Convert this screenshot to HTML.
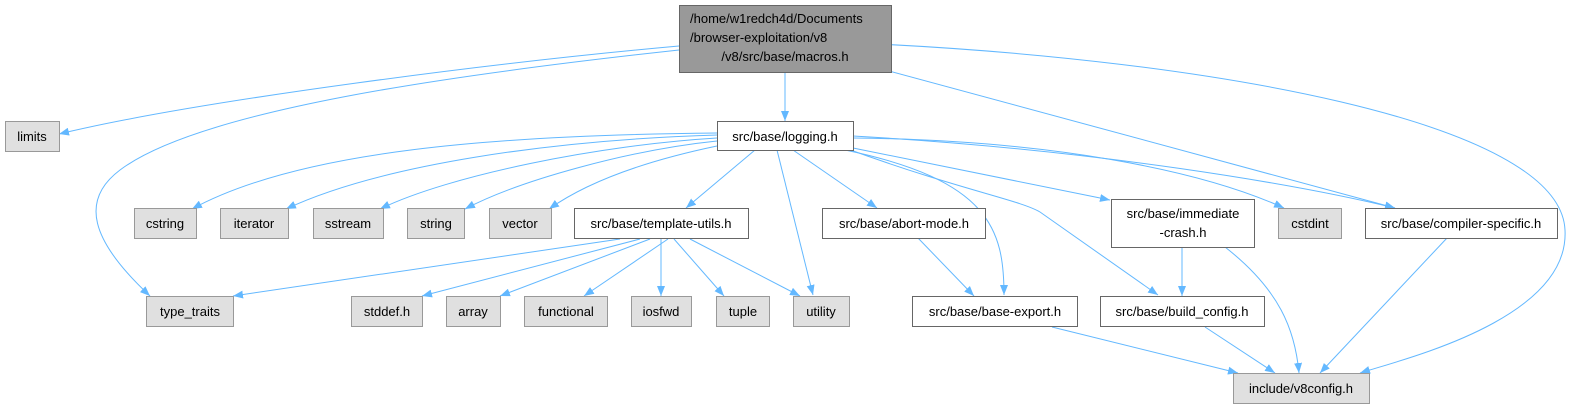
<!DOCTYPE html>
<html><head><meta charset="utf-8"><style>
html,body{margin:0;padding:0;background:#fff;}
svg{display:block;}
text{font-family:"Liberation Sans","DejaVu Sans",sans-serif;font-size:13px;fill:#000;}
</style></head><body>
<svg width="1590" height="408" viewBox="0 0 1590 408" xmlns="http://www.w3.org/2000/svg">
<defs>
<marker id="a" viewBox="0 0 10 8" refX="10" refY="4" markerWidth="10" markerHeight="8" markerUnits="userSpaceOnUse" orient="auto">
<path d="M0,0 L10,4 L0,8 z" fill="#63b8ff"/>
</marker>
</defs>
<g fill="none" stroke="#63b8ff" stroke-width="1" marker-end="url(#a)">
<path d="M679,46 C500,62 200,100 59,134"/>
<path d="M679,50 C450,75 200,110 120,170 C80,200 90,240 150,296"/>
<path d="M785,73 L785,121"/>
<path d="M878,68 L1395,208"/>
<path d="M878,44 C1200,60 1560,120 1565,230 C1570,320 1400,360 1360,373"/>
<path d="M717,133 C500,135 300,150 192,209"/>
<path d="M717,135 C550,140 380,165 286,209"/>
<path d="M717,138 C600,145 450,175 380,209"/>
<path d="M717,141 C630,150 520,180 465,209"/>
<path d="M717,146 C650,160 590,180 549,209"/>
<path d="M755,150 L686,208"/>
<path d="M777,150 L813,295"/>
<path d="M793,150 L877,208"/>
<path d="M845,150 C990,180 1004,230 1004,295"/>
<path d="M845,148 C960,190 1020,200 1040,212 L1158,295"/>
<path d="M853,148 L1110,200"/>
<path d="M853,138 C1050,140 1200,170 1284,208"/>
<path d="M853,136 C1100,150 1300,185 1395,208"/>
<path d="M620,239 L233,296"/>
<path d="M640,239 L422,296"/>
<path d="M650,239 L500,296"/>
<path d="M668,239 L584,296"/>
<path d="M661,239 L661,296"/>
<path d="M674,239 L724,296"/>
<path d="M690,239 L800,296"/>
<path d="M918,238 L974,296"/>
<path d="M1182,247 L1182,296"/>
<path d="M1225,247 C1280,290 1295,330 1299,373"/>
<path d="M1447,238 L1320,373"/>
<path d="M1052,327 L1238,373"/>
<path d="M1205,327 L1275,373"/>
</g>
<g stroke-width="1">
<rect x="679.5" y="5.5" width="212" height="67" fill="#999" stroke="#666"/>
<text x="690" y="23">/home/w1redch4d/Documents</text>
<text x="690" y="42">/browser-exploitation/v8</text>
<text x="785" y="61" text-anchor="middle">/v8/src/base/macros.h</text>

<rect x="5.5" y="121.5" width="54" height="30" fill="#e0e0e0" stroke="#999"/><text x="32" y="141" text-anchor="middle">limits</text>
<rect x="717.5" y="121.5" width="136" height="29" fill="#fff" stroke="#666"/><text x="785" y="141" text-anchor="middle">src/base/logging.h</text>

<rect x="134.5" y="208.5" width="62" height="30" fill="#e0e0e0" stroke="#999"/><text x="165" y="228" text-anchor="middle">cstring</text>
<rect x="220.5" y="208.5" width="68" height="30" fill="#e0e0e0" stroke="#999"/><text x="254" y="228" text-anchor="middle">iterator</text>
<rect x="313.5" y="208.5" width="70" height="30" fill="#e0e0e0" stroke="#999"/><text x="348" y="228" text-anchor="middle">sstream</text>
<rect x="407.5" y="208.5" width="57" height="30" fill="#e0e0e0" stroke="#999"/><text x="436" y="228" text-anchor="middle">string</text>
<rect x="489.5" y="208.5" width="62" height="30" fill="#e0e0e0" stroke="#999"/><text x="520" y="228" text-anchor="middle">vector</text>
<rect x="574.5" y="208.5" width="174" height="30" fill="#fff" stroke="#666"/><text x="661" y="228" text-anchor="middle">src/base/template-utils.h</text>
<rect x="822.5" y="208.5" width="163" height="30" fill="#fff" stroke="#666"/><text x="904" y="228" text-anchor="middle">src/base/abort-mode.h</text>
<rect x="1111.5" y="199.5" width="143" height="48" fill="#fff" stroke="#666"/><text x="1183" y="218" text-anchor="middle">src/base/immediate</text><text x="1183" y="237" text-anchor="middle">-crash.h</text>
<rect x="1278.5" y="208.5" width="63" height="30" fill="#e0e0e0" stroke="#999"/><text x="1310" y="228" text-anchor="middle">cstdint</text>
<rect x="1365.5" y="208.5" width="192" height="30" fill="#fff" stroke="#666"/><text x="1461" y="228" text-anchor="middle">src/base/compiler-specific.h</text>

<rect x="146.5" y="296.5" width="87" height="30" fill="#e0e0e0" stroke="#999"/><text x="190" y="316" text-anchor="middle">type_traits</text>
<rect x="351.5" y="296.5" width="71" height="30" fill="#e0e0e0" stroke="#999"/><text x="387" y="316" text-anchor="middle">stddef.h</text>
<rect x="446.5" y="296.5" width="54" height="30" fill="#e0e0e0" stroke="#999"/><text x="473" y="316" text-anchor="middle">array</text>
<rect x="524.5" y="296.5" width="83" height="30" fill="#e0e0e0" stroke="#999"/><text x="566" y="316" text-anchor="middle">functional</text>
<rect x="631.5" y="296.5" width="60" height="30" fill="#e0e0e0" stroke="#999"/><text x="661" y="316" text-anchor="middle">iosfwd</text>
<rect x="716.5" y="296.5" width="53" height="30" fill="#e0e0e0" stroke="#999"/><text x="743" y="316" text-anchor="middle">tuple</text>
<rect x="793.5" y="296.5" width="56" height="30" fill="#e0e0e0" stroke="#999"/><text x="821" y="316" text-anchor="middle">utility</text>
<rect x="912.5" y="296.5" width="165" height="30" fill="#fff" stroke="#666"/><text x="995" y="316" text-anchor="middle">src/base/base-export.h</text>
<rect x="1100.5" y="296.5" width="164" height="30" fill="#fff" stroke="#666"/><text x="1182" y="316" text-anchor="middle">src/base/build_config.h</text>

<rect x="1233.5" y="373.5" width="136" height="30" fill="#e0e0e0" stroke="#999"/><text x="1301" y="393" text-anchor="middle">include/v8config.h</text>
</g>
</svg>
</body></html>
